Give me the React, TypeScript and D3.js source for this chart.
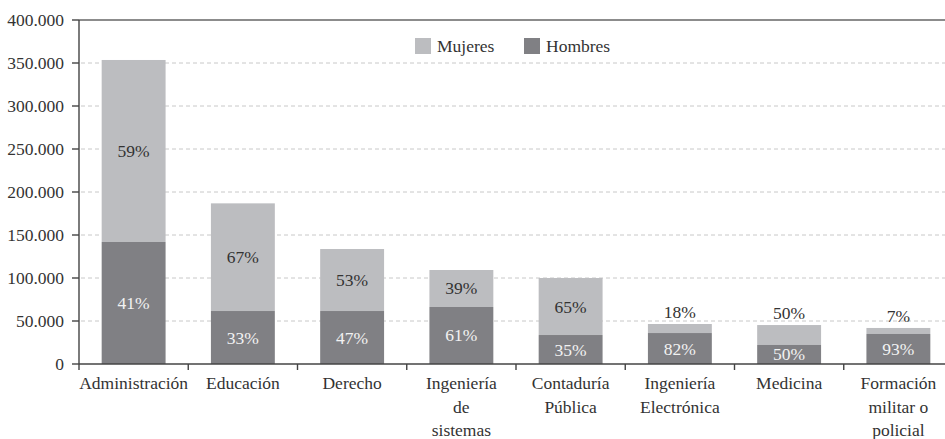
import React from "react";
import * as d3 from "d3";

const categories: string[][] = [
  ["Administración"],
  ["Educación"],
  ["Derecho"],
  ["Ingeniería", "de", "sistemas"],
  ["Contaduría", "Pública"],
  ["Ingeniería", "Electrónica"],
  ["Medicina"],
  ["Formación", "militar o", "policial"],
];
const totals = [353500, 186800, 133700, 109300, 100000, 46500, 45300, 41900];
const hombres = [141900, 61600, 61600, 66300, 33700, 36000, 22100, 34900];
const mujeresPct = ["59%", "67%", "53%", "39%", "65%", "18%", "50%", "7%"];
const hombresPct = ["41%", "33%", "47%", "61%", "35%", "82%", "50%", "93%"];
const yTicks = [0, 50000, 100000, 150000, 200000, 250000, 300000, 350000, 400000];
const legendLabels = ["Mujeres", "Hombres"];

const W = 945;
const H = 439;
const left = 79;
const right = 953;
const top = 20;
const bottom = 364;
const cMuj = "#bcbdc0";
const cHom = "#808084";
const fs = 17.5;
const tStyle: React.CSSProperties = { fontFamily: "Liberation Serif" };

const fmt = (v: number) => (v === 0 ? "0" : d3.format(",")(v).replace(/,/g, "."));

export default function App() {
  const idx = categories.map((_, i) => String(i));
  const x = d3.scaleBand<string>().domain(idx).range([left, right]).paddingInner(0).paddingOuter(0);
  const y = d3.scaleLinear().domain([0, 400000]).range([bottom, top]);
  const bw = x.bandwidth() * 0.585;
  const step = x.step();

  return (
    <svg width={W} height={H} style={{ position: "absolute", left: 0, top: 0, background: "#fff" }}>
      {yTicks.filter((t) => t > 0 && t < 400000).map((t) => (
        <line key={"g" + t} x1={left + 2} x2={W} y1={y(t)} y2={y(t)} stroke="#c8c8c8" strokeWidth={1} strokeDasharray="4,3" />
      ))}
      {totals.map((tot, i) => {
        const cx = (x(String(i)) as number) + step / 2;
        const yTot = y(tot);
        const yH = y(hombres[i]);
        const mujH = yH - yTot;
        const mujLabelY = mujH < 22 ? yTot - 6 : (yTot + yH) / 2 + 6;
        const homLabelY = (yH + bottom) / 2 + 6;
        return (
          <g key={"b" + i}>
            <rect x={cx - bw / 2} y={yTot} width={bw} height={mujH} fill={cMuj} />
            <rect x={cx - bw / 2} y={yH} width={bw} height={bottom - yH} fill={cHom} />
            <text x={cx} y={mujLabelY} textAnchor="middle" fontSize={fs} fill="#333" style={tStyle}>{mujeresPct[i]}</text>
            <text x={cx} y={homLabelY} textAnchor="middle" fontSize={fs} fill="#f2f2f2" style={tStyle}>{hombresPct[i]}</text>
          </g>
        );
      })}
      <line x1={left} x2={W} y1={top} y2={top} stroke="#666" strokeWidth={1.6} />
      <line x1={left} x2={left} y1={top} y2={bottom + 6} stroke="#444" strokeWidth={1.4} />
      {yTicks.map((t) => (
        <g key={"t" + t}>
          <line x1={left - 7} x2={left} y1={y(t)} y2={y(t)} stroke="#444" strokeWidth={1.4} />
          <text x={64} y={y(t) + 6} textAnchor="end" fontSize={fs} fill="#333" style={tStyle}>{fmt(t)}</text>
        </g>
      ))}
      <line x1={left} x2={W} y1={bottom} y2={bottom} stroke="#444" strokeWidth={1.4} />
      {categories.map((_, i) => {
        const bx = (x(String(i)) as number) + step;
        return <line key={"bt" + i} x1={bx} x2={bx} y1={bottom} y2={bottom + 6} stroke="#444" strokeWidth={1.4} />;
      })}
      {categories.map((lines, i) => {
        const cx = (x(String(i)) as number) + step / 2;
        return (
          <text key={"c" + i} textAnchor="middle" fontSize={fs} fill="#333" style={tStyle}>
            {lines.map((ln, j) => (
              <tspan key={j} x={cx} y={389 + j * 23.5}>{ln}</tspan>
            ))}
          </text>
        );
      })}
      {legendLabels.map((lab, i) => {
        const lx = i === 0 ? 415 : 524;
        return (
          <g key={"l" + i}>
            <rect x={lx} y={38} width={16} height={16} fill={i === 0 ? cMuj : cHom} />
            <text x={lx + 22} y={52} fontSize={fs} fill="#333" style={tStyle}>{lab}</text>
          </g>
        );
      })}
    </svg>
  );
}
